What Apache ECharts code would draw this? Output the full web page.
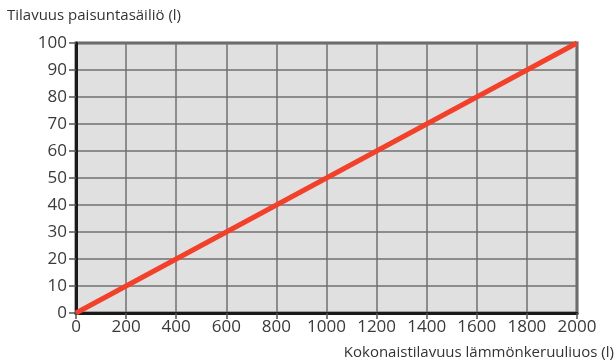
<!DOCTYPE html>
<html><head><meta charset="utf-8">
<script src="https://cdn.jsdelivr.net/npm/echarts@6/dist/echarts.min.js"></script>
<style>html,body{margin:0;padding:0;background:#fff}#c{width:616px;height:363px}</style>
</head><body><div id="c"></div>
<script>
var xValues = [0, 2000];
var yValues = [0, 100];
var xTicks = [0,200,400,600,800,1000,1200,1400,1600,1800,2000];
var yTicks = [0,10,20,30,40,50,60,70,80,90,100];
var yTitle = 'Tilavuus paisuntasäiliö (l)';
var xTitle = 'Kokonaistilavuus lämmönkeruuliuos (l)';

var FONT = '"Open Sans", "Noto Sans", sans-serif';
var chart = echarts.init(document.getElementById('c'), null, {renderer:'canvas'});
chart.setOption({
  animation: false,
  grid: {left: 76, right: 39, top: 43, bottom: 50, show: true, backgroundColor: '#e0e0e0', borderColor: '#5f5f5f', borderWidth: 3},
  xAxis: {
    type: 'value', min: xTicks[0], max: xTicks[xTicks.length-1], interval: xTicks[1]-xTicks[0],
    axisLine: {show: true, onZero: false, lineStyle: {color: '#1a1a1a', width: 3}},
    axisTick: {show: true, length: 6, lineStyle: {color: '#555', width: 1.5}},
    axisLabel: {color: '#3a3a3a', fontSize: 17, fontFamily: FONT, margin: 6, formatter: function(v){ return String(v); }},
    splitLine: {show: true, lineStyle: {color: '#707070', width: 1.5}}
  },
  yAxis: {
    type: 'value', min: yTicks[0], max: yTicks[yTicks.length-1], interval: yTicks[1]-yTicks[0],
    axisLine: {show: true, onZero: false, lineStyle: {color: '#1a1a1a', width: 3}},
    axisTick: {show: true, length: 7, lineStyle: {color: '#555', width: 1.5}},
    axisLabel: {color: '#3a3a3a', fontSize: 17, fontFamily: FONT, margin: 9, formatter: function(v){ return String(v); }},
    splitLine: {show: true, lineStyle: {color: '#707070', width: 1.5}}
  },
  graphic: [
    {type: 'text', left: 7, top: 8, style: {text: yTitle, fill: '#333', font: '15px ' + FONT}},
    {type: 'text', right: 2, top: 345, style: {text: xTitle, fill: '#333', font: '15px ' + FONT}}
  ],
  series: [{
    type: 'line',
    data: xValues.map(function(x, i){ return [x, yValues[i]]; }),
    symbol: 'none',
    lineStyle: {color: '#f2402a', width: 5},
    z: 5
  }]
});
</script></body></html>
